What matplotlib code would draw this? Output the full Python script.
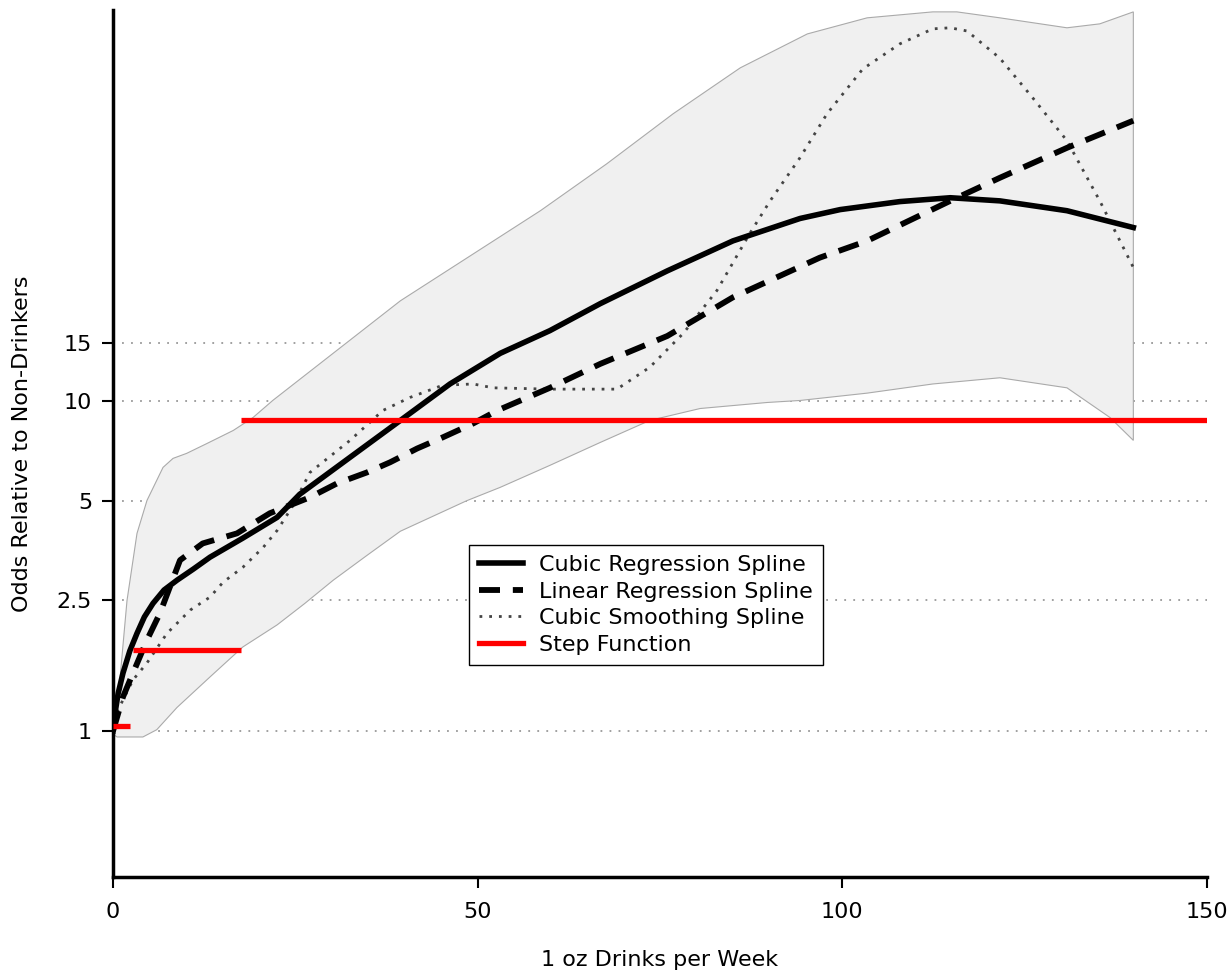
import matplotlib
matplotlib.use("Agg")
import matplotlib.pyplot as plt
from matplotlib.ticker import FixedLocator, NullLocator, FixedFormatter

plt.rcParams['font.family'] = ['DejaVu Sans']

# confidence band (upper / lower)
band_up_x = [0, 0.69, 1.92, 3.29, 4.66, 6.86, 8.23, 10.1, 12.9, 16.5, 19.2, 21.9, 39.4, 58.6,
             67.7, 76.8, 86.0, 95.2, 103.4, 112.4, 115.7, 121.6, 130.8, 135.3, 139.9]
band_up_y = [1.04, 1.24, 2.49, 3.98, 5.01, 6.31, 6.72, 6.96, 7.46, 8.17, 8.94, 10.07, 20.2, 37.9,
             52.6, 74.6, 102.8, 130.3, 145.8, 152, 152, 145.8, 136, 139.8, 152]
band_lo_x = [0, 0.55, 4.1, 6.0, 8.78, 13.3, 17.8, 22.5, 26.3, 30.2, 34.8, 39.4, 48.5, 53.1, 59.9,
             66.8, 73.6, 80.5, 89.7, 94.2, 103.4, 112.4, 121.6, 130.8, 136.7, 139.9]
band_lo_y = [0.98, 0.96, 0.96, 1.01, 1.18, 1.46, 1.80, 2.10, 2.44, 2.87, 3.41, 4.04, 5.00, 5.49, 6.40,
             7.51, 8.76, 9.52, 9.93, 10.07, 10.6, 11.3, 11.8, 11.0, 8.94, 7.62]

# cubic regression spline
crs_x = [0, 0.27, 0.7, 1.37, 2.3, 3.29, 4.3, 5.48, 7.0, 8.78, 11.0, 13.3, 17.8, 22.5, 25.6, 32.5,
         39.4, 46.2, 53.1, 59.9, 66.8, 76.0, 85.0, 94.2, 99.7, 107.9, 114.8, 121.6, 130.8, 139.9]
crs_y = [1.0, 1.13, 1.30, 1.50, 1.75, 1.98, 2.22, 2.44, 2.68, 2.87, 3.10, 3.37, 3.85, 4.45, 5.23, 6.77,
         8.76, 11.3, 14.0, 16.4, 19.8, 24.9, 30.7, 35.9, 38.2, 40.4, 41.5, 40.6, 37.9, 33.7]

# linear regression spline
lrs_x = [0, 1.37, 2.74, 4.66, 6.44, 9.19, 12.3, 17.0, 21.5, 27.0, 30.7, 34.8, 38.0, 41.7, 45.2,
         49.4, 52.7, 59.9, 66.8, 76.0, 85.0, 96.9, 103.4, 114.8, 121.6, 130.8, 139.9]
lrs_y = [1.0, 1.27, 1.50, 1.89, 2.28, 3.30, 3.71, 3.98, 4.58, 5.12, 5.64, 6.09, 6.54, 7.20, 7.78,
         8.58, 9.39, 11.0, 13.0, 15.8, 20.7, 27.3, 30.7, 40.6, 47.7, 58.8, 71.1]

# cubic smoothing spline
css_x = [0, 0.69, 2.74, 4.66, 7.40, 10.6, 13.3, 15.1, 17.8, 20.6, 22.5, 24.7, 27.0, 32.5, 37.0,
         40.7, 45.2, 49.4, 52.1, 59.9, 69.1, 73.6, 78.2, 82.8, 87.3, 90.1, 94.2, 97.9, 102.8,
         107.9, 112.4, 114.8, 117.1, 121.6, 126.1, 130.8, 135.3, 139.9]
css_y = [1.0, 1.16, 1.43, 1.61, 1.98, 2.33, 2.55, 2.83, 3.14, 3.61, 4.06, 4.84, 6.09, 7.62, 9.39,
         10.28, 11.2, 11.3, 11.0, 10.9, 10.9, 12.7, 16.1, 21.7, 32.3, 40.6, 54.9, 74.6, 102,
         121.6, 135, 136, 133, 110, 83.4, 61.8, 40.6, 25.5]

# step function: (start, end, level)
step_start = [0, 2.8, 17.6]
step_end = [2.3, 17.5, 150]
step_level = [1.035, 1.76, 8.76]

yticks = [1, 2.5, 5, 10, 15]
ytick_labels = ['1', '2.5', '5', '10', '15']
xticks = [0, 50, 100, 150]

fig = plt.figure(figsize=(12.3, 9.73), dpi=100)
ax = fig.add_axes([113 / 1230, 1 - 877 / 973, 1094 / 1230, 867 / 973])

# confidence band
ax.fill(band_up_x + band_lo_x[::-1], band_up_y + band_lo_y[::-1],
        facecolor='#f0f0f0', edgecolor='#aaaaaa', linewidth=0.8, zorder=1)

ax.plot(css_x, css_y, color='#444444', linestyle=(0, (1, 2.5)), linewidth=2.0, zorder=3,
        label='Cubic Smoothing Spline')
ax.plot(lrs_x, lrs_y, color='black', linestyle=(0, (3.6, 2.2)), linewidth=4.2, zorder=4,
        label='Linear Regression Spline')
ax.plot(crs_x, crs_y, color='black', linestyle='-', linewidth=4.0, zorder=5,
        label='Cubic Regression Spline')
ax.hlines(step_level, step_start, step_end, colors='#ff0000', linewidth=3.8, zorder=6)
ax.plot([], [], color='#ff0000', linewidth=3.8, label='Step Function')

ax.set_yscale('log')
ax.set_xlim(0, 150)
ax.set_ylim(0.361, 154)
ax.yaxis.set_major_locator(FixedLocator(yticks))
ax.yaxis.set_major_formatter(FixedFormatter(ytick_labels))
ax.yaxis.set_minor_locator(NullLocator())
ax.set_xticks(xticks)

ax.grid(axis='y', linestyle=(0, (1, 4)), color='#999999', linewidth=1.3)
ax.set_axisbelow(True)

for side in ['top', 'right']:
    ax.spines[side].set_visible(False)
for side in ['left', 'bottom']:
    ax.spines[side].set_linewidth(2.5)

ax.tick_params(axis='both', direction='out', length=8, width=1.5, labelsize=16)
ax.tick_params(axis='x', pad=10)
ax.tick_params(axis='y', pad=7)

ax.set_xlabel('1 oz Drinks per Week', fontsize=16, labelpad=20)
ax.set_ylabel('Odds Relative to Non-Drinkers', fontsize=16, labelpad=18)

handles, labels = ax.get_legend_handles_labels()
order = ['Cubic Regression Spline', 'Linear Regression Spline', 'Cubic Smoothing Spline', 'Step Function']
hmap = dict(zip(labels, handles))
leg = ax.legend([hmap[k] for k in order], order, loc='upper left',
                bbox_to_anchor=(0.3254, 0.383), borderaxespad=0, fontsize=16,
                frameon=True, fancybox=False, edgecolor='black', framealpha=1,
                handlelength=2.0, handletextpad=0.7, labelspacing=0.3, borderpad=0.45)
leg.get_frame().set_linewidth(1.0)
leg.set_zorder(10)

fig.savefig('out.png', dpi=100)
